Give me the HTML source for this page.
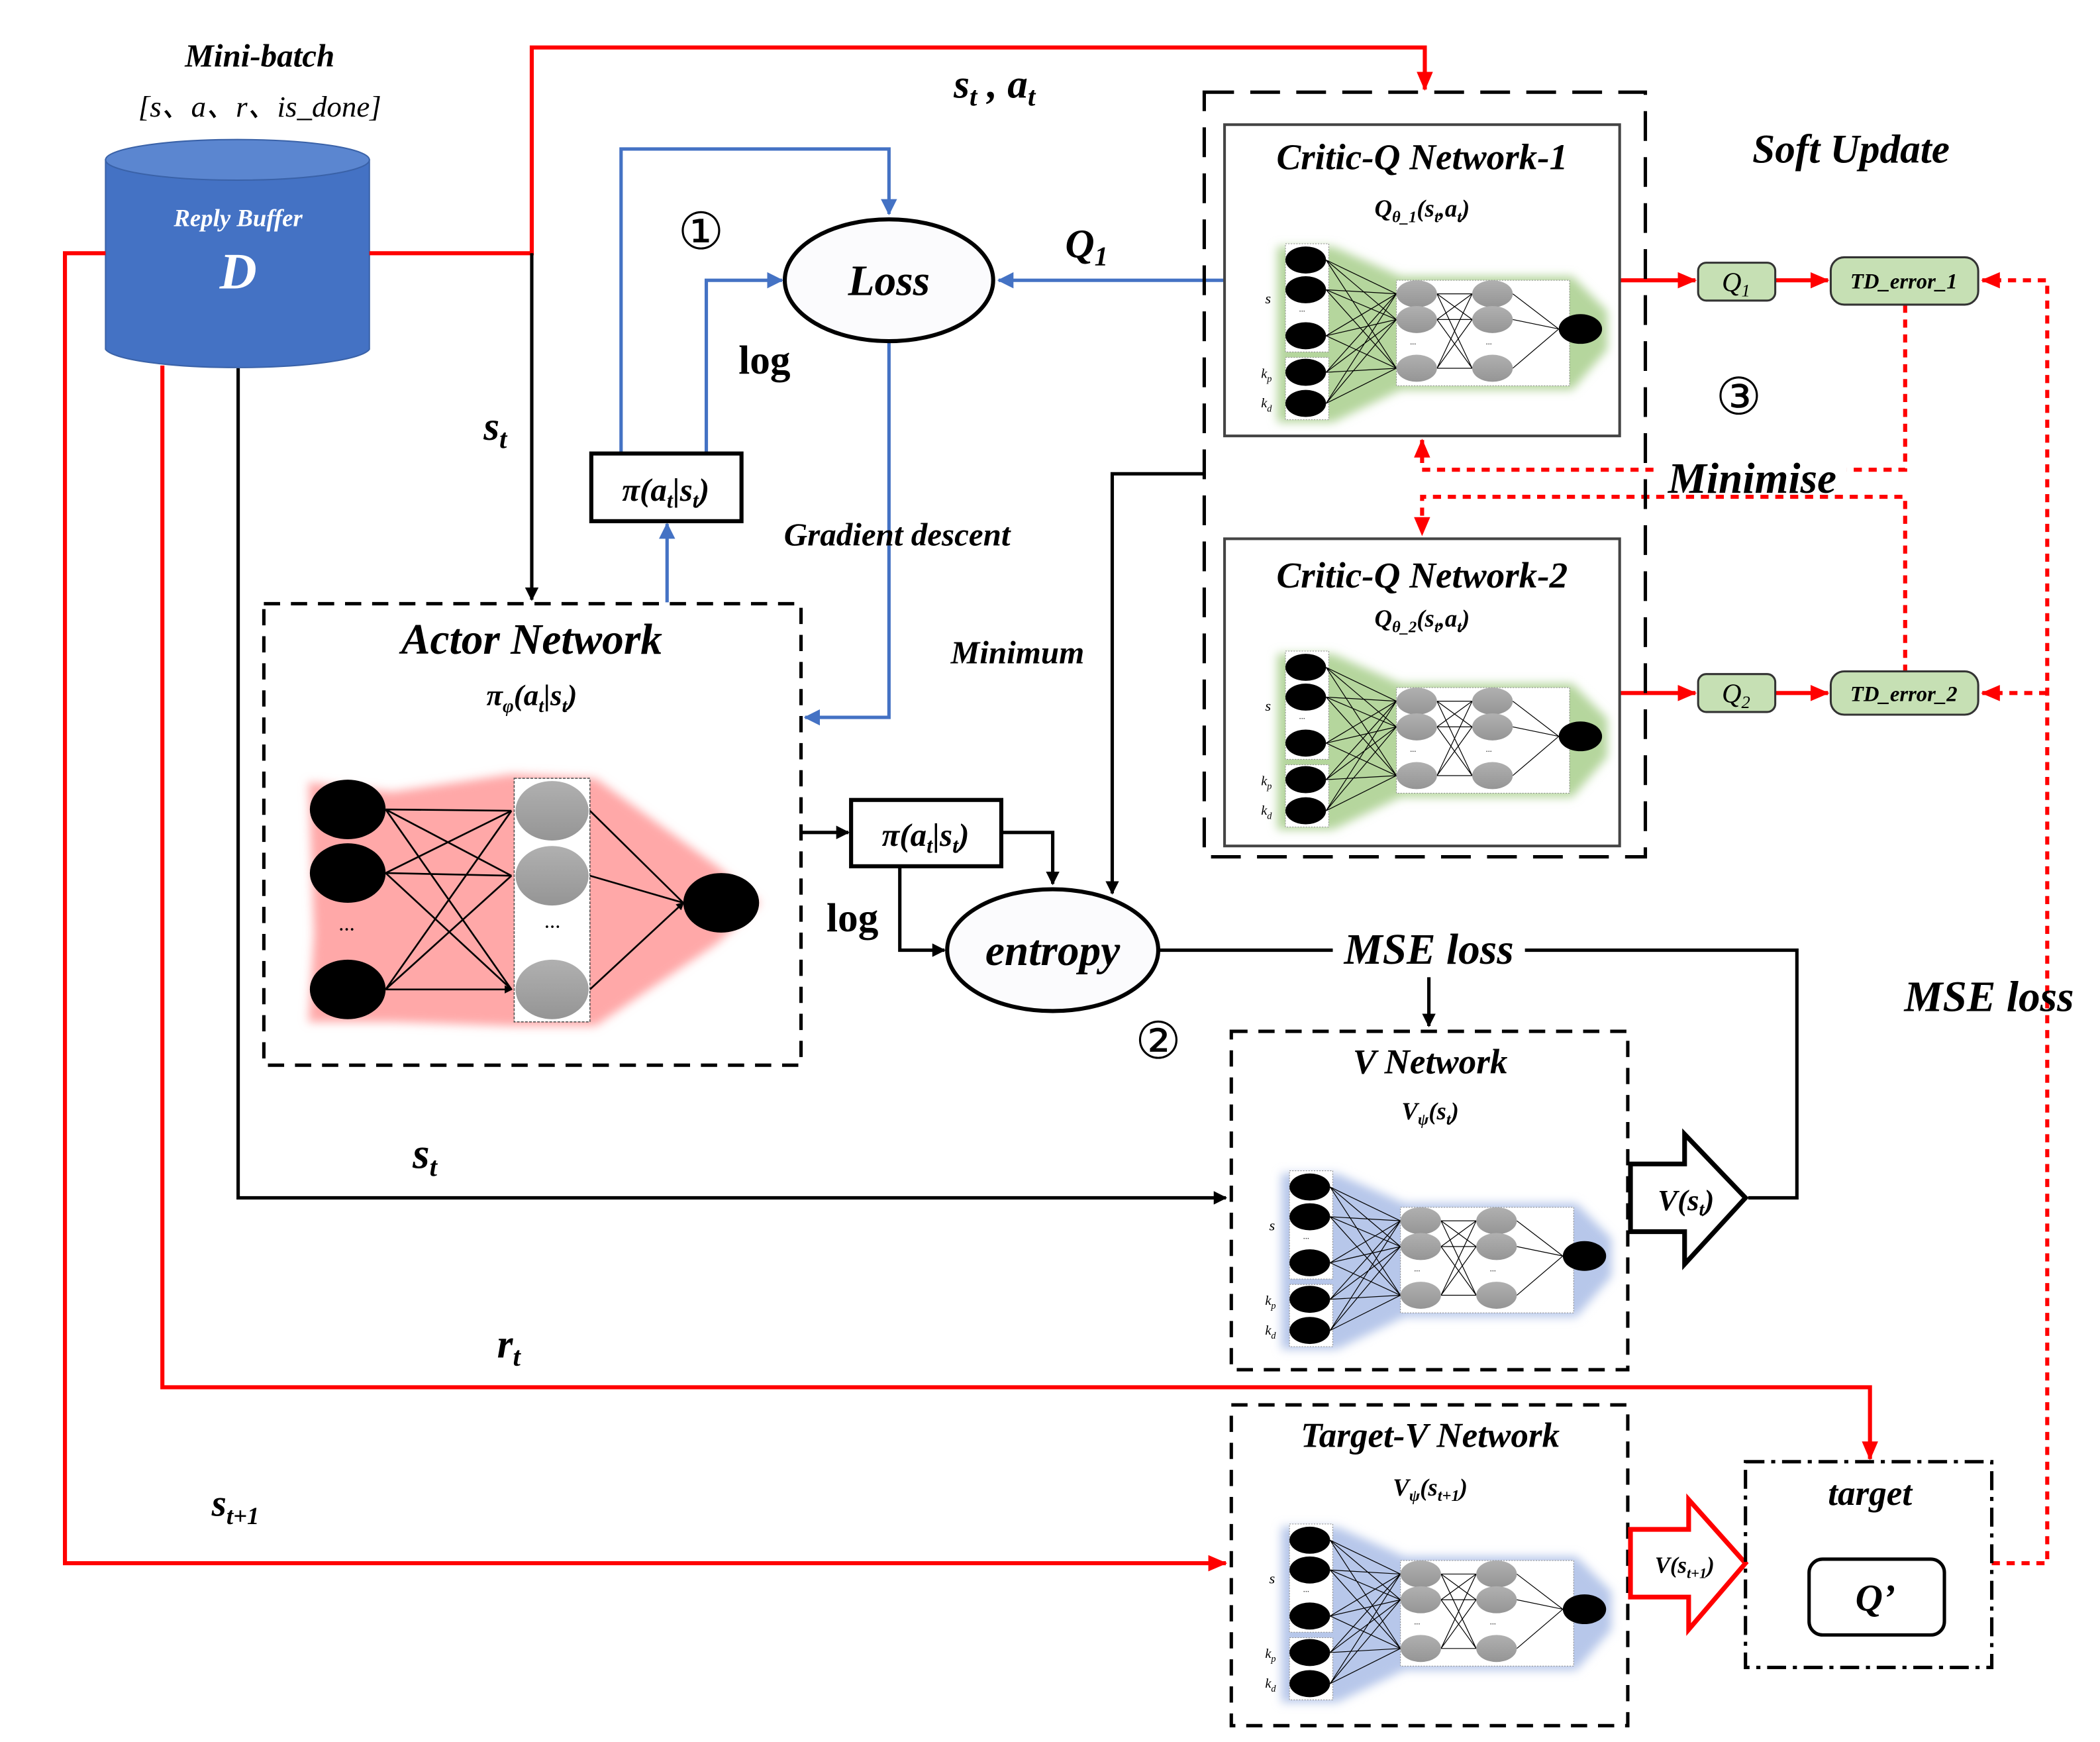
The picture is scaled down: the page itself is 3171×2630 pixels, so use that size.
<!DOCTYPE html>
<html><head><meta charset="utf-8"><style>
html,body{margin:0;padding:0;background:#fff}
svg{display:block}
text{font-family:"Liberation Serif",serif;font-style:italic;font-weight:bold;fill:#000}
</style></head><body>
<svg width="3171" height="2630" viewBox="0 0 1552 1287" xmlns="http://www.w3.org/2000/svg">
<defs>
<marker id="ab" markerWidth="10" markerHeight="10" refX="9" refY="5" orient="auto" markerUnits="userSpaceOnUse"><path d="M0,0 L10,5 L0,10 z" fill="#000"/></marker>
<marker id="ar" markerWidth="14" markerHeight="12" refX="13" refY="6" orient="auto" markerUnits="userSpaceOnUse"><path d="M0,0 L14,6 L0,12 z" fill="#f00"/></marker>
<marker id="au" markerWidth="12" markerHeight="12" refX="11" refY="6" orient="auto" markerUnits="userSpaceOnUse"><path d="M0,0 L12,6 L0,12 z" fill="#4472C4"/></marker>
<marker id="as" markerWidth="6" markerHeight="6" refX="5" refY="3" orient="auto" markerUnits="userSpaceOnUse"><path d="M0,0 L6,3 L0,6 z" fill="#000"/></marker>
<filter id="bl" x="-20%" y="-20%" width="140%" height="140%"><feGaussianBlur stdDeviation="3.5"/></filter>
<linearGradient id="gr" x1="0" y1="0" x2="0" y2="1"><stop offset="0" stop-color="#b0b0b0"/><stop offset="1" stop-color="#959595"/></linearGradient>
<g id="net">
 <rect x="20" y="0" width="32" height="80" fill="#fff" stroke="#888" stroke-width="0.5" stroke-dasharray="1,1"/>
 <rect x="20" y="84" width="32" height="46" fill="#fff" stroke="#888" stroke-width="0.5" stroke-dasharray="1,1"/>
 <rect x="102" y="27" width="128" height="78" fill="#fff" stroke="#888" stroke-width="0.5" stroke-dasharray="1,1"/>
 <g stroke="#000" stroke-width="0.6" fill="none">
  <path d="M50,12L102,37M50,12L102,56M50,12L102,92M50,34L102,37M50,34L102,56M50,34L102,92M50,68L102,37M50,68L102,56M50,68L102,92M50,95L102,37M50,95L102,56M50,95L102,92M50,118L102,37M50,118L102,56M50,118L102,92"/>
  <path d="M132,37L158,37M132,37L158,56M132,37L158,92M132,56L158,37M132,56L158,56M132,56L158,92M132,92L158,37M132,92L158,56M132,92L158,92"/>
  <path d="M188,37L222,63M188,56L222,63M188,92L222,63"/>
 </g>
 <g fill="#000"><ellipse cx="35" cy="12" rx="15" ry="10"/><ellipse cx="35" cy="34" rx="15" ry="10"/><ellipse cx="35" cy="68" rx="15" ry="10"/><ellipse cx="35" cy="95" rx="15" ry="10"/><ellipse cx="35" cy="118" rx="15" ry="10"/><ellipse cx="238" cy="63" rx="16" ry="11"/></g>
 <g fill="url(#gr)"><ellipse cx="117" cy="37" rx="15" ry="10"/><ellipse cx="117" cy="56" rx="15" ry="10"/><ellipse cx="117" cy="92" rx="15" ry="10"/><ellipse cx="173" cy="37" rx="15" ry="10"/><ellipse cx="173" cy="56" rx="15" ry="10"/><ellipse cx="173" cy="92" rx="15" ry="10"/></g>
 <text x="30" y="52" font-size="6" style="font-weight:normal">···</text>
 <text x="112" y="76" font-size="6" style="font-weight:normal">···</text>
 <text x="168" y="76" font-size="6" style="font-weight:normal">···</text>
 <text x="5" y="44" font-size="11" style="font-weight:normal">s</text>
 <text x="2" y="99" font-size="10" style="font-weight:normal">k<tspan font-size="7" dy="3">p</tspan></text>
 <text x="2" y="121" font-size="10" style="font-weight:normal">k<tspan font-size="7" dy="3">d</tspan></text>
</g>
<path id="glow" d="M14,2 L55,2 L105,24 L232,24 L258,50 L258,78 L232,108 L105,108 L55,132 L14,132 Z"/>
</defs>

<!-- cylinder -->
<path d="M78,118 L78,258 A98,15 0 0 0 273,258 L273,118 Z" fill="#4472C4" stroke="#3a62a8"/>
<ellipse cx="175.5" cy="118" rx="97.5" ry="15" fill="#5b86d0" stroke="#3a62a8"/>
<text x="176" y="167" font-size="18" text-anchor="middle" style="fill:#fff">Reply Buffer</text>
<text x="176" y="213" font-size="38" text-anchor="middle" style="fill:#fff">D</text>
<text x="192" y="49" font-size="24" text-anchor="middle">Mini-batch</text>
<text x="192" y="86" font-size="22" text-anchor="middle" style="font-weight:normal">[s、a、r、is_done]</text>

<!-- red lines -->
<g stroke="#f00" stroke-width="3" fill="none">
<path d="M273,187 L393,187 L393,35 L1053,35 L1053,66" marker-end="url(#ar)"/>
<path d="M78,187 L48,187 L48,1155 L906,1155" marker-end="url(#ar)"/>
<path d="M120,270 L120,1025 L1382,1025 L1382,1078" marker-end="url(#ar)"/>
<path d="M1197,207 L1253,207" marker-end="url(#ar)"/>
<path d="M1312,207 L1351,207" marker-end="url(#ar)"/>
<path d="M1197,512 L1253,512" marker-end="url(#ar)"/>
<path d="M1312,512 L1351,512" marker-end="url(#ar)"/>
</g>
<g stroke="#f00" stroke-width="3" fill="none" stroke-dasharray="6,5">
<path d="M1472,1155 L1513,1155 L1513,207 L1465,207" marker-end="url(#ar)"/>
<path d="M1513,512 L1465,512" marker-end="url(#ar)"/>
<path d="M1408,225 L1408,347 L1051,347 L1051,325" marker-end="url(#ar)"/>
<path d="M1408,497 L1408,367 L1051,367 L1051,395" marker-end="url(#ar)"/>
</g>

<!-- black lines -->
<g stroke="#000" stroke-width="2.5" fill="none">
<path d="M393,187 L393,443" marker-end="url(#ab)"/>
<path d="M176,272 L176,885 L906,885" marker-end="url(#ab)"/>
<path d="M890,350 L822,350 L822,660" marker-end="url(#ab)"/>
<path d="M592,615 L627,615" marker-end="url(#ab)"/>
<path d="M740,615 L778,615 L778,653" marker-end="url(#ab)"/>
<path d="M665,640 L665,702 L698,702" marker-end="url(#ab)"/>
<path d="M856,702 L985,702 M1127,702 L1328,702 L1328,885 L1292,885"/>
<path d="M1056,722 L1056,758" marker-end="url(#ab)"/>
</g>

<!-- blue lines -->
<g stroke="#4472C4" stroke-width="2.5" fill="none">
<path d="M459,335 L459,110 L657,110 L657,158" marker-end="url(#au)"/>
<path d="M522,335 L522,207 L578,207" marker-end="url(#au)"/>
<path d="M908,207 L738,207" marker-end="url(#au)"/>
<path d="M657,252 L657,530 L595,530" marker-end="url(#au)"/>
<path d="M493,445 L493,387" marker-end="url(#au)"/>
</g>

<!-- Loss / entropy -->
<ellipse cx="657" cy="207" rx="77" ry="45" fill="#fbfbfd" stroke="#000" stroke-width="3"/>
<text x="657" y="218" font-size="32" text-anchor="middle">Loss</text>
<ellipse cx="778" cy="702" rx="78" ry="45" fill="#fbfbfd" stroke="#000" stroke-width="3"/>
<text x="778" y="713" font-size="32" text-anchor="middle">entropy</text>

<!-- pi boxes -->
<rect x="437" y="335" width="111" height="50" fill="#fff" stroke="#000" stroke-width="3"/>
<text x="492" y="370" font-size="24" text-anchor="middle">π(a<tspan font-size="16" dy="5">t</tspan><tspan dy="-5">|s</tspan><tspan font-size="16" dy="5">t</tspan><tspan dy="-5">)</tspan></text>
<rect x="629" y="591" width="111" height="49" fill="#fff" stroke="#000" stroke-width="3"/>
<text x="684" y="625" font-size="24" text-anchor="middle">π(a<tspan font-size="16" dy="5">t</tspan><tspan dy="-5">|s</tspan><tspan font-size="16" dy="5">t</tspan><tspan dy="-5">)</tspan></text>

<!-- Actor -->
<rect x="195" y="446" width="397" height="341" fill="none" stroke="#000" stroke-width="2.5" stroke-dasharray="12,8"/>
<text x="393" y="483" font-size="32" text-anchor="middle">Actor Network</text>
<text x="393" y="521" font-size="22" text-anchor="middle">π<tspan font-size="14" dy="5">φ</tspan><tspan dy="-5">(a</tspan><tspan font-size="14" dy="5">t</tspan><tspan dy="-5">|s</tspan><tspan font-size="14" dy="5">t</tspan><tspan dy="-5">)</tspan></text>
<path d="M228,578 L290,585 L378,572 L440,575 L530,640 L562,667 L530,697 L440,758 L378,758 L290,755 L228,755 L232,690 Z" fill="#ffa8a8" filter="url(#bl)"/>
<rect x="380" y="575" width="56" height="180" fill="#fff" stroke="#555" stroke-width="0.8" stroke-dasharray="2,1"/>
<g stroke="#000" stroke-width="1.3" fill="none">
<path d="M285,598L378,599M285,598L378,647M285,598L378,731M285,645L378,599M285,645L378,647M285,645L378,731M285,731L378,599M285,731L378,647M285,731L378,731" marker-end="url(#as)"/>
<path d="M436,599L505,667M436,647L505,667M436,731L505,667" marker-end="url(#as)"/>
</g>
<g fill="#000"><ellipse cx="257" cy="598" rx="28" ry="22"/><ellipse cx="257" cy="645" rx="28" ry="22"/><ellipse cx="257" cy="731" rx="28" ry="22"/><ellipse cx="533" cy="667" rx="28" ry="22"/></g>
<g fill="url(#gr)"><ellipse cx="408" cy="599" rx="27" ry="22"/><ellipse cx="408" cy="647" rx="27" ry="22"/><ellipse cx="408" cy="731" rx="27" ry="22"/></g>
<text x="256" y="692" font-size="16" text-anchor="middle" style="font-weight:normal">···</text>
<text x="408" y="690" font-size="16" text-anchor="middle" style="font-weight:normal">···</text>

<!-- Critic -->
<rect x="890" y="68" width="326" height="565" fill="none" stroke="#000" stroke-width="2.5" stroke-dasharray="22,12"/>
<rect x="905" y="92" width="292" height="230" fill="#fff" stroke="#444" stroke-width="2"/>
<rect x="905" y="398" width="292" height="227" fill="#fff" stroke="#444" stroke-width="2"/>
<text x="1051" y="125" font-size="27" text-anchor="middle">Critic-Q Network-1</text>
<text x="1051" y="160" font-size="18" text-anchor="middle">Q<tspan font-size="12" dy="4">θ_1</tspan><tspan dy="-4">(s</tspan><tspan font-size="12" dy="4">t</tspan><tspan dy="-4">,a</tspan><tspan font-size="12" dy="4">t</tspan><tspan dy="-4">)</tspan></text>
<text x="1051" y="434" font-size="27" text-anchor="middle">Critic-Q Network-2</text>
<text x="1051" y="463" font-size="18" text-anchor="middle">Q<tspan font-size="12" dy="4">θ_2</tspan><tspan dy="-4">(s</tspan><tspan font-size="12" dy="4">t</tspan><tspan dy="-4">,a</tspan><tspan font-size="12" dy="4">t</tspan><tspan dy="-4">)</tspan></text>
<g transform="translate(930,180)"><use href="#glow" fill="#b5d69d" filter="url(#bl)"/><use href="#net"/></g>
<g transform="translate(930,481)"><use href="#glow" fill="#b5d69d" filter="url(#bl)"/><use href="#net"/></g>

<!-- V networks -->
<rect x="910" y="762" width="293" height="250" fill="none" stroke="#000" stroke-width="2.5" stroke-dasharray="12,8"/>
<text x="1057" y="793" font-size="26" text-anchor="middle">V Network</text>
<text x="1057" y="827" font-size="18" text-anchor="middle">V<tspan font-size="12" dy="4">ψ</tspan><tspan dy="-4">(s</tspan><tspan font-size="12" dy="4">t</tspan><tspan dy="-4">)</tspan></text>
<g transform="translate(933,865)"><use href="#glow" fill="#b7c7ea" filter="url(#bl)"/><use href="#net"/></g>
<rect x="910" y="1038" width="293" height="237" fill="none" stroke="#000" stroke-width="2.5" stroke-dasharray="12,8"/>
<text x="1057" y="1069" font-size="26" text-anchor="middle">Target-V Network</text>
<text x="1057" y="1105" font-size="18" text-anchor="middle">V<tspan font-size="12" dy="4">ψ</tspan><tspan dy="-4">(s</tspan><tspan font-size="12" dy="4">t+1</tspan><tspan dy="-4">)</tspan></text>
<g transform="translate(933,1126)"><use href="#glow" fill="#b7c7ea" filter="url(#bl)"/><use href="#net"/></g>

<!-- hollow arrows -->
<path d="M1205,860 L1245,860 L1245,838 L1290,885 L1245,934 L1245,910 L1205,910 Z" fill="#fff" stroke="#000" stroke-width="3.5"/>
<text x="1246" y="894" font-size="22" text-anchor="middle">V(s<tspan font-size="14" dy="4">t</tspan><tspan dy="-4">)</tspan></text>
<path d="M1205,1130 L1248,1130 L1248,1108 L1290,1155 L1248,1204 L1248,1180 L1205,1180 Z" fill="#fff" stroke="#f00" stroke-width="3.5"/>
<text x="1245" y="1162" font-size="17" text-anchor="middle">V(s<tspan font-size="11" dy="4">t+1</tspan><tspan dy="-4">)</tspan></text>

<!-- target -->
<rect x="1290" y="1080" width="182" height="152" fill="none" stroke="#000" stroke-width="2.5" stroke-dasharray="14,5,3,5"/>
<text x="1382" y="1112" font-size="26" text-anchor="middle">target</text>
<rect x="1337" y="1152" width="100" height="56" rx="10" fill="#fff" stroke="#000" stroke-width="2.5"/>
<text x="1386" y="1190" font-size="28" text-anchor="middle">Q’</text>

<!-- green boxes -->
<rect x="1255" y="194" width="57" height="28" rx="6" fill="#c6e0b4" stroke="#333" stroke-width="1.5"/>
<text x="1283" y="215" font-size="20" text-anchor="middle" style="font-weight:normal">Q<tspan font-size="13" dy="4">1</tspan></text>
<rect x="1353" y="190" width="109" height="35" rx="10" fill="#c6e0b4" stroke="#333" stroke-width="1.5"/>
<text x="1407" y="213" font-size="16" text-anchor="middle">TD_error_1</text>
<rect x="1255" y="498" width="57" height="28" rx="6" fill="#c6e0b4" stroke="#333" stroke-width="1.5"/>
<text x="1283" y="519" font-size="20" text-anchor="middle" style="font-weight:normal">Q<tspan font-size="13" dy="4">2</tspan></text>
<rect x="1353" y="496" width="109" height="32" rx="10" fill="#c6e0b4" stroke="#333" stroke-width="1.5"/>
<text x="1407" y="518" font-size="16" text-anchor="middle">TD_error_2</text>

<!-- labels -->
<text x="1368" y="120" font-size="30" text-anchor="middle">Soft Update</text>
<rect x="1225" y="335" width="140" height="30" fill="#fff"/>
<text x="1295" y="364" font-size="32" text-anchor="middle">Minimise</text>
<text x="1285" y="306" font-size="38" text-anchor="middle" style="font-style:normal;font-weight:normal;font-family:'DejaVu Sans',sans-serif">③</text>
<text x="518" y="184" font-size="38" text-anchor="middle" style="font-style:normal;font-weight:normal;font-family:'DejaVu Sans',sans-serif">①</text>
<text x="856" y="782" font-size="38" text-anchor="middle" style="font-style:normal;font-weight:normal;font-family:'DejaVu Sans',sans-serif">②</text>
<text x="1470" y="747" font-size="32" text-anchor="middle">MSE loss</text>
<text x="1056" y="712" font-size="32" text-anchor="middle">MSE loss</text>
<text x="735" y="72" font-size="30" text-anchor="middle">s<tspan font-size="20" dy="6">t</tspan><tspan dy="-6"> , a</tspan><tspan font-size="20" dy="6">t</tspan></text>
<text x="803" y="190" font-size="30" text-anchor="middle">Q<tspan font-size="20" dy="6">1</tspan></text>
<text x="565" y="276" font-size="30" text-anchor="middle" style="font-style:normal">log</text>
<text x="630" y="688" font-size="30" text-anchor="middle" style="font-style:normal">log</text>
<text x="366" y="325" font-size="30" text-anchor="middle">s<tspan font-size="20" dy="6">t</tspan></text>
<text x="663" y="403" font-size="24" text-anchor="middle">Gradient descent</text>
<text x="752" y="490" font-size="24" text-anchor="middle">Minimum</text>
<text x="314" y="863" font-size="32" text-anchor="middle">s<tspan font-size="20" dy="6">t</tspan></text>
<text x="376" y="1003" font-size="30" text-anchor="middle">r<tspan font-size="20" dy="6">t</tspan></text>
<text x="174" y="1120" font-size="28" text-anchor="middle">s<tspan font-size="18" dy="6">t+1</tspan></text>
</svg>
</body></html>
